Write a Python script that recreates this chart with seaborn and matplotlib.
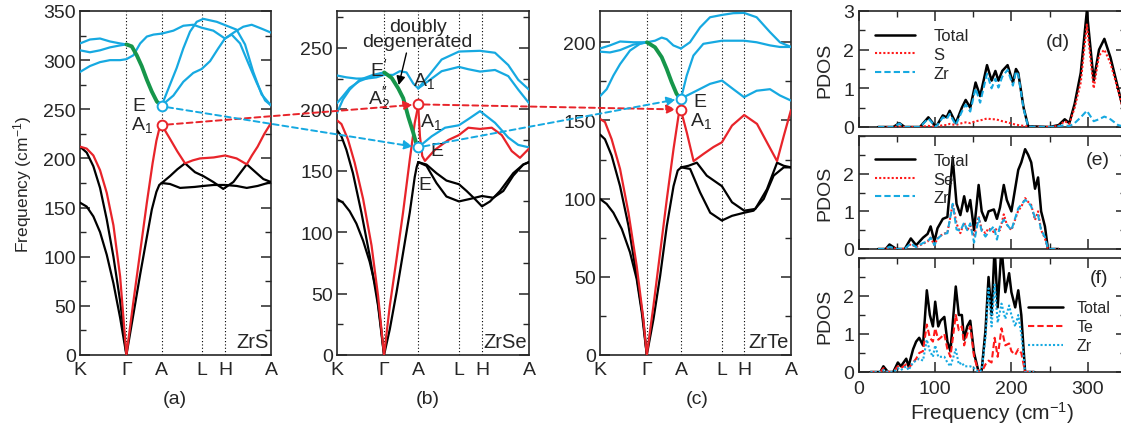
import matplotlib
matplotlib.use("Agg")
import matplotlib.pyplot as plt
import seaborn as sns
from matplotlib.patches import ConnectionPatch
from matplotlib.ticker import MultipleLocator

sns.set_style("ticks")
plt.rcParams["font.family"] = ["Liberation Sans", "DejaVu Sans"]
plt.rcParams["mathtext.fontset"] = "custom"
plt.rcParams["mathtext.rm"] = "Liberation Sans"
plt.rcParams["mathtext.it"] = "Liberation Sans:italic"
plt.rcParams["axes.linewidth"] = 1.2

BLUE = "#16A9E1"
RED = "#E8242A"
GREEN = "#16964A"
BLACK = "#000000"

KPATH = ["K", "Γ", "A", "L", "H", "A"]

# ---------------- ZrS (a) ----------------
ZRS_HS = [0.0, 0.243, 0.428, 0.638, 0.760, 1.0]
ZRS_A1, ZRS_E = 234, 253
zrs_ac1 = ([0, .035, .07, .105, .14, .175, .21, .243, .28, .315, .35, .376, .40, .415, .428],
           [155, 151, 141, 125, 102, 73, 38, 0, 42, 82, 120, 148, 166, 173, 175])
zrs_ac2 = ([0, .035, .07, .105, .14, .175, .21, .243],
           [212, 206, 192, 170, 138, 100, 55, 0])
zrs_la = ([0, .035, .07, .105, .14, .175, .21, .243, .28, .315, .35, .38, .40, .415, .428],
          [212, 210, 203, 188, 165, 132, 80, 0, 55, 105, 155, 195, 218, 230, 234])
zrs_red_r = ([.428, .471, .510, .550, .590, .628, .700, .760, .820, .873, .900, .930, .965, 1.0],
             [234, 220, 207, 195, 198, 200, 201, 203, 200, 194, 203, 212, 225, 236])
zrs_blk_r1 = ([.428, .471, .510, .550, .602, .646, .698, .750, .803, .873, .925, .960, 1.0],
              [175, 182, 189, 195, 186, 182, 176, 169, 176, 194, 185, 179, 176])
zrs_blk_r2 = ([.428, .471, .524, .600, .646, .700, .760, .820, .873, .930, 1.0],
              [175, 174, 170, 171, 172, 173, 173, 172, 170, 172, 176])
zrs_opt_top = ([0, .052, .105, .157, .21, .243], [317, 321, 322, 319, 317, 316])
zrs_opt_mid = ([0, .052, .105, .157, .21, .243], [310, 308, 310, 313, 315, 316])
zrs_opt_low = ([0, .052, .105, .157, .21, .243, .28, .315, .35, .385, .428],
               [288, 294, 298, 300, 300, 301, 305, 317, 324, 326, 327])
zrs_green = ([.243, .271, .297, .323, .35, .376, .402, .423],
             [316, 314, 305, 294, 280, 268, 258, 254])
zrs_p = ([.428, .489, .541, .593, .637, .698, .759, .812, .855, .899, .951, 1.0],
         [327, 330, 335, 336, 333, 330, 322, 329, 334, 336, 332, 328])
zrs_q = ([.428, .471, .506, .541, .576, .611, .646, .716, .768, .820, .864, .907, .951, 1.0],
         [254, 275, 292, 312, 329, 339, 342, 339, 335, 331, 316, 288, 265, 254])
zrs_r = ([.428, .489, .541, .593, .637, .681, .724, .759, .794, .838, .881, .925, .969, 1.0],
         [254, 264, 278, 287, 291, 299, 312, 322, 326, 317, 297, 277, 259, 254])

# ---------------- ZrSe (b) ----------------
ZRSE_HS = [0.0, 0.245, 0.423, 0.635, 0.755, 1.0]
ZRSE_A1, ZRSE_E = 204, 169
zrse_ac1 = ([0, .031, .066, .101, .136, .170, .205, .225, .245, .275, .31, .344, .379, .405, .415, .423],
            [127, 124, 117, 107, 93, 76, 53, 28, 0, 21, 51, 83, 116, 145, 153, 157])
zrse_ac2 = ([0, .023, .049, .083, .127, .170, .214, .245], [183, 178, 167, 148, 116, 81, 40, 0])
zrse_la = ([0, .023, .057, .092, .136, .180, .214, .245, .275, .31, .344, .379, .405, .423],
           [191, 188, 175.5, 156.5, 127, 89, 48, 0, 40, 78, 116, 159, 189, 203])
zrse_red_r = ([.423, .432, .444, .458, .510, .580, .635, .684, .745, .806, .858, .910, .953, 1.0],
              [203, 178, 162, 158, 167, 175, 179, 185, 184, 185, 179, 166, 160.5, 168])
zrse_blk_r1 = ([.423, .466, .518, .570, .635, .675, .718, .755, .797, .849, .918, .970, 1.0],
               [157, 155, 148, 142, 139, 133.5, 127, 121, 125, 133.5, 148, 155, 157])
zrse_blk_r2 = ([.423, .466, .518, .570, .635, .692, .755, .814, .866, .918, .970, 1.0],
               [157, 154, 140, 129, 125, 127, 129.4, 128, 133.5, 146, 155, 157])
zrse_opt1 = ([0, .049, .101, .153, .205, .245, .292, .327, .362, .397, .423],
             [227.5, 226, 225, 225, 226, 228, 228, 231, 230, 221, 217])
zrse_opt2 = ([0, .031, .066, .118, .170, .245], [205, 210.7, 217.4, 223, 226, 230])
zrse_opt3 = ([0, .031, .066, .118, .188, .245], [197, 208, 216, 224, 228, 230])
zrse_green = ([.246, .285, .319, .345, .371, .397, .415, .422],
              [230, 225.5, 217, 209, 194, 181, 171, 169])
zrse_u1 = ([.423, .476, .545, .635, .745, .823, .892, .944, 1.0],
           [217, 227, 240.5, 247, 247.6, 246, 236, 224, 216])
zrse_u2 = ([.423, .476, .545, .635, .684, .745, .823, .892, .944, 1.0],
           [217, 223, 231, 234.5, 232.6, 230.7, 232, 227, 216, 205])
zrse_lowblue = ([.423, .493, .563, .635, .684, .745, .823, .892, .944, 1.0],
                [169, 178, 185, 187, 192, 198.5, 189, 177, 171, 169])

# ---------------- ZrTe (c) ----------------
ZRTE_HS = [0.0, 0.245, 0.425, 0.638, 0.755, 1.0]
ZRTE_A1, ZRTE_E = 157, 164
zrte_ac1 = ([0, .035, .070, .114, .157, .192, .219, .245, .280, .315, .350, .385, .407, .425],
            [99.8, 96.6, 91, 80.6, 65.7, 48.6, 27, 0, 23, 50.7, 82.7, 108, 118, 120])
zrte_ac2 = ([0, .026, .061, .105, .149, .192, .224, .245], [141, 138, 127.5, 108, 82.7, 50.7, 25, 0])
zrte_la = ([0, .026, .061, .105, .149, .192, .227, .245, .280, .315, .350, .385, .411, .425],
           [151, 149, 138, 119, 91, 57, 23, 0, 31.6, 65.7, 99.8, 131.8, 153, 156])
zrte_red_r = ([.425, .455, .490, .542, .594, .638, .691, .755, .822, .874, .927, .962, 1.0],
              [156, 142, 124, 128.6, 133, 136, 146.7, 153.5, 147.8, 136, 124, 140, 156.7])
zrte_blk_r1 = ([.425, .463, .507, .559, .638, .691, .755, .813, .874, .927, .962, 1.0],
               [120, 121, 123, 114.7, 108, 97.7, 92.3, 93.4, 106, 123, 121, 120])
zrte_blk_r2 = ([.425, .472, .524, .577, .638, .691, .755, .804, .857, .909, .962, 1.0],
               [120, 119, 104, 91, 86, 89, 91, 92.3, 99.8, 114.7, 120, 120])
zrte_opt1 = ([0, .052, .105, .175, .246, .288, .323, .349, .384, .424],
             [196, 198, 200.5, 200, 200, 201, 203, 202, 198, 196])
zrte_opt2 = ([0, .052, .105, .175, .246], [194, 193.5, 195, 198.5, 200])
zrte_opt3 = ([0, .035, .07, .105, .157, .209, .246], [165.5, 170, 178.7, 186, 194.7, 199, 200])
zrte_green = ([.246, .288, .323, .349, .375, .401, .42], [200, 196.8, 190.5, 183, 174.5, 167, 164])
zrte_top = ([.424, .471, .524, .576, .639, .698, .754, .820, .890, .942, 1.0],
            [196, 200, 209.5, 216, 217.5, 218.6, 218.8, 216, 206.5, 200, 197])
zrte_mid = ([.424, .454, .489, .541, .639, .754, .820, .890, .942, 1.0],
            [164, 178.7, 191.5, 199, 201, 201, 200, 198, 197, 197])
zrte_low = ([.424, .489, .576, .639, .698, .754, .820, .890, .942, 1.0],
            [164, 168, 173.4, 175.5, 170, 164.9, 169, 170, 166, 162.7])

# ---------------- PDOS ----------------
PD_D_X = [25, 45, 53, 60, 80, 91, 101, 110, 115, 119, 127, 135, 140, 146, 153, 159, 168, 174, 179, 183,
          188, 195, 202, 206, 209, 216, 222, 250, 262, 270, 276, 283, 291, 299, 308, 315, 322, 330, 340, 350]
PD_D_TOT = [0, 0, 0.1, 0, 0, 0.25, 0, 0.3, 0.25, 0.42, 0.1, 0.5, 0.7, 0.5, 1.15, 0.8, 1.6, 1.2, 1.45, 1.2,
            1.45, 1.6, 1.15, 1.5, 1.4, 0.5, 0.02, 0, 0.05, 0.2, 0.1, 0.6, 1.4, 3.0, 1.2, 2.0, 2.28, 1.8, 1.0, 0.2]
PD_D_S = [0, 0, 0.01, 0, 0, 0.03, 0, 0.05, 0.05, 0.08, 0.05, 0.1, 0.12, 0.1, 0.15, 0.17, 0.22, 0.2, 0.2, 0.18,
          0.15, 0.12, 0.08, 0.06, 0.05, 0.03, 0.01, 0, 0.03, 0.15, 0.08, 0.5, 1.15, 2.65, 1.0, 1.85, 2.0, 1.65, 0.95, 0.2]
PD_D_ZR = [0, 0, 0.09, 0, 0, 0.22, 0, 0.25, 0.2, 0.34, 0.05, 0.4, 0.58, 0.4, 1.0, 0.63, 1.38, 1.0, 1.25, 1.02,
           1.3, 1.48, 1.07, 1.44, 1.35, 0.47, 0.01, 0, 0.02, 0.05, 0.02, 0.1, 0.25, 0.42, 0.15, 0.2, 0.27, 0.2, 0.05, 0]

PD_E_X = [25, 35, 40, 49, 60, 68, 75, 84, 90, 94, 99, 103, 110, 116, 123, 128, 133, 138, 142, 146, 151,
          157, 161, 166, 170, 177, 181, 185, 190, 194, 200, 209, 213, 218, 222, 226, 231, 235, 239, 244, 248, 262]
PD_E_TOT = [0, 0, 0.12, 0, 0, 0.28, 0.1, 0.3, 0.4, 0.6, 0.2, 0.55, 0.8, 0.85, 2.4, 1.2, 0.9, 1.4, 1.0, 1.3, 0.5,
            1.7, 1.0, 0.75, 1.0, 1.05, 0.8, 1.1, 1.7, 1.3, 1.0, 2.1, 2.3, 2.65, 2.5, 2.3, 1.6, 1.9, 1.0, 0.6, 0, 0]
PD_E_SE = [0, 0, 0.06, 0, 0, 0.13, 0.05, 0.14, 0.2, 0.3, 0.1, 0.28, 0.4, 0.43, 1.2, 0.68, 0.42, 0.7, 0.5, 0.62, 0.33,
           0.87, 0.52, 0.42, 0.55, 0.45, 0.55, 0.5, 0.92, 0.65, 0.5, 1.02, 1.12, 1.35, 1.25, 1.17, 0.77, 1.0, 0.5, 0.28, 0, 0]
PD_E_ZR = [0, 0, 0.06, 0, 0, 0.15, 0.05, 0.16, 0.2, 0.3, 0.1, 0.27, 0.4, 0.42, 1.2, 0.52, 0.48, 0.7, 0.5, 0.68, 0.17,
           0.83, 0.48, 0.33, 0.45, 0.6, 0.25, 0.6, 0.78, 0.65, 0.5, 1.08, 1.18, 1.3, 1.25, 1.13, 0.83, 0.9, 0.5, 0.32, 0, 0]

PD_F_X = [15, 28, 32, 38, 45, 51, 55, 62, 65, 71, 75, 79, 84, 89, 93, 97, 100, 104, 107, 112, 116, 120, 127,
          131, 135, 138, 142, 146, 151, 157, 161, 166, 170, 174, 178, 182, 187, 192, 197, 200, 205, 209, 213, 218, 230]
PD_F_TOT = [0, 0, 0.15, 0, 0, 0.25, 0.15, 0.35, 0.15, 0.6, 0.8, 0.9, 0.7, 2.15, 1.5, 1.2, 1.85, 1.2, 1.35, 1.45,
            0.8, 0.55, 2.25, 1.5, 1.5, 0.85, 1.2, 1.35, 0.5, 0.0, 0.05, 1.1, 2.5, 1.5, 3.3, 1.7, 3.3, 2.1, 2.6, 2.1,
            1.7, 2.15, 1.5, 0.0, 0]
PD_F_TE = [0, 0, 0.1, 0, 0, 0.15, 0.1, 0.2, 0.1, 0.25, 0.35, 0.5, 0.55, 1.25, 0.9, 0.8, 1.15, 0.85, 0.9, 1.0,
           0.6, 0.4, 1.5, 1.1, 1.2, 0.7, 1.0, 1.2, 0.4, 0.0, 0.0, 0.2, 0.3, 0.25, 0.9, 0.4, 1.15, 0.7, 0.75, 0.55,
           0.45, 0.6, 0.5, 0.0, 0]
PD_F_ZR = [0, 0, 0.05, 0, 0, 0.1, 0.05, 0.15, 0.05, 0.25, 0.3, 0.35, 0.3, 0.85, 0.55, 0.4, 0.7, 0.4, 0.4, 0.4,
           0.25, 0.15, 0.6, 0.2, 0.25, 0.15, 0.15, 0.15, 0.1, 0.0, 0.05, 0.9, 2.2, 1.2, 2.3, 1.3, 1.8, 1.4, 1.75, 1.5,
           1.2, 1.5, 1.0, 0.0, 0]

W, H = 1121, 431
fig = plt.figure(figsize=(W / 100, H / 100), dpi=100)


def px_axes(left, top, right, bottom):
    return fig.add_axes([left / W, 1 - bottom / H, (right - left) / W, (bottom - top) / H])


def draw(ax, xy, color, lw=1.6, z=3, **kw):
    x, y = xy
    sns.lineplot(x=x, y=y, ax=ax, color=color, linewidth=lw, sort=False,
                 estimator=None, zorder=z, **kw)


def setup_band(ax, hs, ymax, name):
    ax.set_xlim(0, 1)
    ax.set_ylim(0, ymax)
    ax.set_xticks(hs)
    ax.set_xticklabels(KPATH)
    for xv in hs[1:-1]:
        ax.axvline(xv, color="k", ls=(0, (1, 2)), lw=0.8, zorder=1)
    ax.yaxis.set_major_locator(MultipleLocator(50))
    ax.yaxis.set_minor_locator(MultipleLocator(25))
    ax.tick_params(axis="y", which="both", direction="in", left=True, right=True, labelsize=14)
    ax.tick_params(axis="y", which="major", length=7, width=1.1, pad=3)
    ax.tick_params(axis="y", which="minor", length=4, width=1.0)
    ax.tick_params(axis="x", length=0, labelsize=14, pad=4)
    ax.set_xlabel("")
    ax.set_ylabel("")
    ax.text(0.99, 0.012, name, transform=ax.transAxes, ha="right", va="bottom", fontsize=14.5)


def circle(ax, x, y, color):
    ax.plot([x], [y], marker="o", ms=7, mfc="white", mec=color, mew=1.4, zorder=8, clip_on=False)


ax_a = px_axes(80, 12, 271, 356)
ax_b = px_axes(337, 12, 529, 356)
ax_c = px_axes(600, 12, 791, 356)

# (a)
for xy in [zrs_opt_top, zrs_opt_mid, zrs_opt_low, zrs_p, zrs_q, zrs_r]:
    draw(ax_a, xy, BLUE)
for xy in [zrs_ac1, zrs_ac2, zrs_blk_r1, zrs_blk_r2]:
    draw(ax_a, xy, BLACK)
for xy in [zrs_la, zrs_red_r]:
    draw(ax_a, xy, RED, z=4)
draw(ax_a, zrs_green, GREEN, lw=2.8, z=5)
setup_band(ax_a, ZRS_HS, 350, "ZrS")
circle(ax_a, ZRS_HS[2], ZRS_E, BLUE)
circle(ax_a, ZRS_HS[2], ZRS_A1, RED)
ax_a.text(0.275, 249, "E", fontsize=14)
ax_a.text(0.265, 230, r"A$_{\mathregular{1}}$", fontsize=14)
ax_a.set_ylabel("Frequency (cm$^{-1}$)", fontsize=12.5)
ax_a.yaxis.set_label_coords(-0.24, 0.5)

# (b)
for xy in [zrse_opt1, zrse_opt2, zrse_opt3, zrse_u1, zrse_u2, zrse_lowblue]:
    draw(ax_b, xy, BLUE)
for xy in [zrse_ac1, zrse_ac2, zrse_blk_r1, zrse_blk_r2]:
    draw(ax_b, xy, BLACK)
for xy in [zrse_la, zrse_red_r]:
    draw(ax_b, xy, RED, z=4)
draw(ax_b, zrse_green, GREEN, lw=2.8, z=5)
setup_band(ax_b, ZRSE_HS, 280, "ZrSe")
circle(ax_b, ZRSE_HS[2], ZRSE_A1, RED)
circle(ax_b, ZRSE_HS[2], ZRSE_E, BLUE)
ax_b.text(0.42, 261, "doubly\ndegenerated", ha="center", va="center", fontsize=14,
          linespacing=0.85, zorder=9)
ax_b.annotate("", xy=(0.318, 217.5), xytext=(0.365, 248),
              arrowprops=dict(arrowstyle="-|>", color="k", lw=1.0, mutation_scale=13), zorder=9)
ax_b.text(0.17, 228, "E$'$", fontsize=14, zorder=9)
ax_b.text(0.395, 220, r"A$_{\mathregular{1}}$", fontsize=14, zorder=9)
ax_b.text(0.16, 205, r"A$_{\mathregular{2}}^{\prime\prime}$", fontsize=14, zorder=9)
ax_b.text(0.43, 186, r"A$_{\mathregular{1}}$", fontsize=14, zorder=9)
ax_b.text(0.485, 163, "E", fontsize=14, zorder=9)
ax_b.text(0.422, 135, "E", fontsize=14, zorder=9)

# (c)
for xy in [zrte_opt1, zrte_opt2, zrte_opt3, zrte_top, zrte_mid, zrte_low]:
    draw(ax_c, xy, BLUE)
for xy in [zrte_ac1, zrte_ac2, zrte_blk_r1, zrte_blk_r2]:
    draw(ax_c, xy, BLACK)
for xy in [zrte_la, zrte_red_r]:
    draw(ax_c, xy, RED, z=4)
draw(ax_c, zrte_green, GREEN, lw=2.8, z=5)
setup_band(ax_c, ZRTE_HS, 220, "ZrTe")
circle(ax_c, ZRTE_HS[2], ZRTE_E, BLUE)
circle(ax_c, ZRTE_HS[2], ZRTE_A1, RED)
ax_c.text(0.487, 159, "E", fontsize=14, zorder=9)
ax_c.text(0.472, 147, r"A$_{\mathregular{1}}$", fontsize=14, zorder=9)


# connecting dashed arrows
def connect(axA, xyA, axB, xyB, color):
    con = ConnectionPatch(xyA=xyA, coordsA=axA.transData, xyB=xyB, coordsB=axB.transData,
                          arrowstyle="-|>", color=color, lw=1.4, ls=(0, (3, 2)),
                          mutation_scale=13, shrinkA=4, shrinkB=4, zorder=10)
    fig.add_artist(con)


connect(ax_a, (ZRS_HS[2], ZRS_A1), ax_b, (ZRSE_HS[2], ZRSE_A1), RED)
connect(ax_a, (ZRS_HS[2], ZRS_E), ax_b, (ZRSE_HS[2], ZRSE_E), BLUE)
connect(ax_b, (ZRSE_HS[2], ZRSE_A1), ax_c, (ZRTE_HS[2], ZRTE_A1), RED)
connect(ax_b, (ZRSE_HS[2], ZRSE_E), ax_c, (ZRTE_HS[2], ZRTE_E), BLUE)

for lab, xp in [("(a)", 175), ("(b)", 428), ("(c)", 697)]:
    fig.text(xp / W, 1 - 400 / H, lab, ha="center", va="center", fontsize=14)

# PDOS panels
ax_d = px_axes(859, 12, 859 + 266.7, 128)
ax_e = px_axes(859, 137, 859 + 266.7, 250)
ax_f = px_axes(859, 259, 859 + 266.7, 373)

pd_sets = [
    (ax_d, PD_D_X, PD_D_TOT, PD_D_S, PD_D_ZR, "S", (0, (1, 1)), (0, (3, 1.5)), "(d)", (0.746, 0.733)),
    (ax_e, PD_E_X, PD_E_TOT, PD_E_SE, PD_E_ZR, "Se", (0, (1, 1)), (0, (3, 1.5)), "(e)", (0.896, 0.79)),
    (ax_f, PD_F_X, PD_F_TOT, PD_F_TE, PD_F_ZR, "Te", (0, (3, 1.5)), (0, (1, 1)), "(f)", (0.90, 0.833)),
]
for ax, xs, tot, ch, zr, chname, ls_ch, ls_zr, tag, tpos in pd_sets:
    draw(ax, (xs, tot), BLACK, lw=1.8, z=3, label="Total")
    draw(ax, (xs, ch), "#FF1A1A", lw=1.5, z=4, label=chname, linestyle=ls_ch)
    draw(ax, (xs, zr), BLUE, lw=1.5, z=5, label="Zr", linestyle=ls_zr)
    ax.set_xlim(0, 350)
    ax.set_ylim(0, 3)
    ax.xaxis.set_major_locator(MultipleLocator(100))
    ax.xaxis.set_minor_locator(MultipleLocator(50))
    ax.yaxis.set_major_locator(MultipleLocator(1))
    ax.yaxis.set_minor_locator(MultipleLocator(0.5))
    ax.tick_params(which="both", direction="in", top=True, right=True, labelsize=14)
    ax.tick_params(which="major", length=7, width=1.1)
    ax.tick_params(which="minor", length=4, width=1.0)
    ax.tick_params(axis="x", pad=6)
    ax.set_ylabel("PDOS", fontsize=14)
    ax.yaxis.set_label_coords(-0.095, 0.5)
    ax.set_xlabel("")
    ax.text(tpos[0], tpos[1], tag, transform=ax.transAxes, ha="center", va="center", fontsize=14)
    h, l = ax.get_legend_handles_labels()
    if ax is ax_f:
        ax.legend(h, l, loc="upper left", bbox_to_anchor=(0.635, 0.63), frameon=False, fontsize=11.5,
                  handlelength=2.2, handletextpad=0.8, labelspacing=0.25, borderaxespad=0, borderpad=0)
    else:
        ax.legend(h, l, loc="upper left", bbox_to_anchor=(0.06, 0.85), frameon=False, fontsize=12,
                  handlelength=2.4, handletextpad=1.1, labelspacing=0.22, borderaxespad=0, borderpad=0)

ax_d.set_yticks([0, 1, 2, 3])
ax_e.set_yticks([0, 1, 2])
ax_f.set_yticks([0, 1, 2])
ax_d.set_xticklabels([])
ax_e.set_xticklabels([])
ax_f.set_xticks([0, 100, 200, 300])
ax_f.set_xlabel("Frequency (cm$^{-1}$)", fontsize=15, labelpad=1)

fig.savefig("out.png", dpi=100)
